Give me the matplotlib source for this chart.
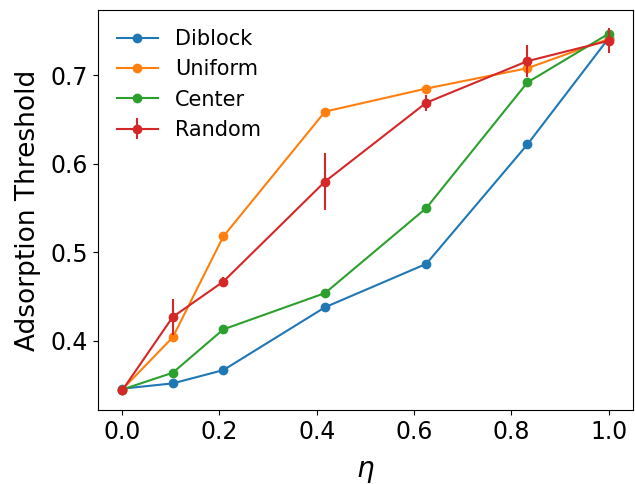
import matplotlib
matplotlib.use("Agg")
import matplotlib.pyplot as plt

# eta values (x)
eta = [0.0, 0.104, 0.208, 0.417, 0.625, 0.833, 1.0]

diblock = [0.346, 0.352, 0.367, 0.438, 0.487, 0.622, 0.742]
uniform = [0.345, 0.404, 0.518, 0.659, 0.685, 0.708, 0.741]
center = [0.345, 0.364, 0.413, 0.454, 0.550, 0.692, 0.747]
random_mean = [0.344, 0.427, 0.467, 0.580, 0.669, 0.716, 0.739]
random_err = [0.002, 0.020, 0.005, 0.032, 0.009, 0.018, 0.014]

fig, ax = plt.subplots(figsize=(6.35, 4.84), dpi=100)
fig.subplots_adjust(left=0.154, right=0.997, top=0.979, bottom=0.152)

ax.plot(eta, diblock, "o-", color="C0", label="Diblock")
ax.plot(eta, uniform, "o-", color="C1", label="Uniform")
ax.plot(eta, center, "o-", color="C2", label="Center")
ax.errorbar(eta, random_mean, yerr=random_err, fmt="o-", color="C3", label="Random")

ax.set_xlabel(r"$\eta$", fontsize=20, labelpad=9)
ax.set_ylabel("Adsorption Threshold", fontsize=19, labelpad=7)
ax.tick_params(labelsize=17)
ax.set_xticks([0.0, 0.2, 0.4, 0.6, 0.8, 1.0])
ax.set_yticks([0.4, 0.5, 0.6, 0.7])
ax.legend(loc="upper left", frameon=False, fontsize=15)

fig.savefig("out.png", dpi=100)
